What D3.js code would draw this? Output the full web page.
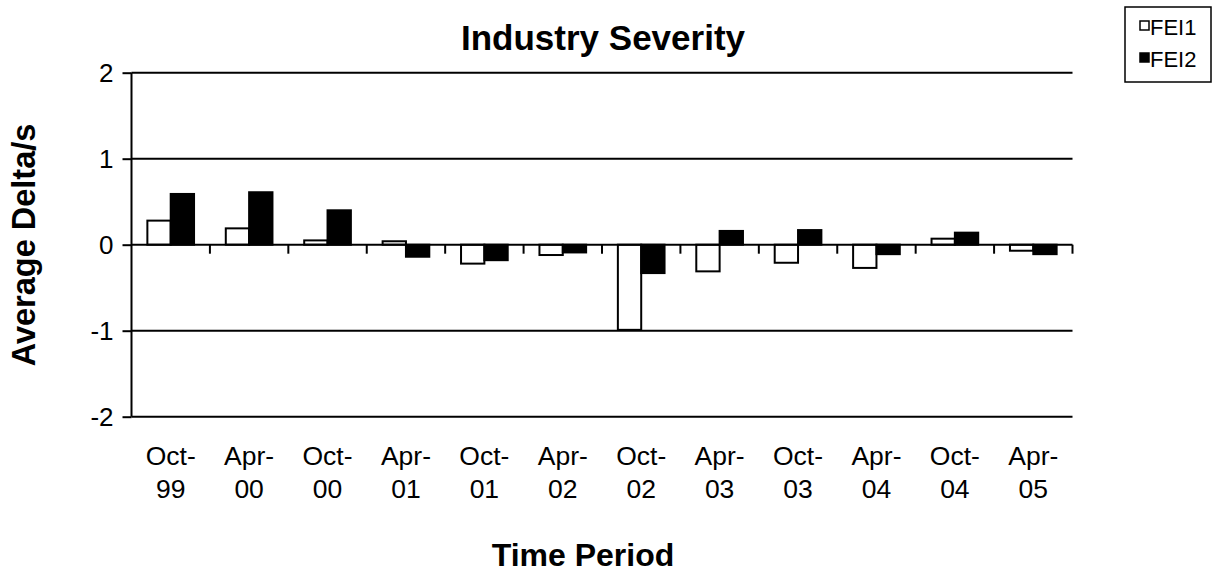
<!DOCTYPE html>
<html>
<head>
<meta charset="utf-8">
<script src="https://cdn.jsdelivr.net/npm/d3@7"></script>
<style>
  body { margin: 0; background: #fff; }
  text { font-family: "Liberation Sans", Arial, sans-serif; fill: #000; }
</style>
</head>
<body>
<div id="chart"></div>
<script>
// data
var categories = ["Oct-99", "Apr-00", "Oct-00", "Apr-01", "Oct-01", "Apr-02",
                  "Oct-02", "Apr-03", "Oct-03", "Apr-04", "Oct-04", "Apr-05"];
var fei1 = [0.28, 0.19, 0.05, 0.04, -0.22, -0.12, -0.99, -0.31, -0.21, -0.27, 0.07, -0.07];
var fei2 = [0.59, 0.61, 0.40, -0.14, -0.18, -0.09, -0.33, 0.16, 0.17, -0.11, 0.14, -0.11];
var seriesNames = ["FEI1", "FEI2"];
var seriesFill = ["#fff", "#000"];
var yTicks = [-2, -1, 0, 1, 2];

var width = 1213, height = 572;
var plot = {left: 131.5, right: 1072.5, top: 72.7, bottom: 416.7};

var svg = d3.select("#chart").append("svg")
    .attr("width", width)
    .attr("height", height);

// scales
var x0 = d3.scaleBand().domain(categories).range([plot.left, plot.right]).padding(0);
var x1 = d3.scaleBand().domain(seriesNames).range([0, x0.bandwidth()])
    .paddingInner(0).paddingOuter(0.68);
var y = d3.scaleLinear().domain([-2, 2]).range([plot.bottom, plot.top]);

// gridlines (non-zero)
svg.append("g").selectAll("line")
  .data(yTicks.filter(function(d) { return d !== 0; }))
  .enter().append("line")
    .attr("x1", plot.left).attr("x2", plot.right)
    .attr("y1", function(d) { return y(d); })
    .attr("y2", function(d) { return y(d); })
    .attr("stroke", "#000").attr("stroke-width", 2);

// bars
var rows = categories.map(function(c, i) {
  return {cat: c, values: [{s: "FEI1", v: fei1[i]}, {s: "FEI2", v: fei2[i]}]};
});

var groups = svg.append("g").selectAll("g")
  .data(rows)
  .enter().append("g")
    .attr("transform", function(d) { return "translate(" + x0(d.cat) + ",0)"; });

groups.selectAll("rect")
  .data(function(d) { return d.values; })
  .enter().append("rect")
    .attr("x", function(d) { return x1(d.s); })
    .attr("width", x1.bandwidth())
    .attr("y", function(d) { return y(Math.max(0, d.v)); })
    .attr("height", function(d) { return Math.abs(y(d.v) - y(0)); })
    .attr("fill", function(d) { return seriesFill[seriesNames.indexOf(d.s)]; })
    .attr("stroke", "#000")
    .attr("stroke-width", 2);

// y axis
var yAxis = svg.append("g")
    .attr("transform", "translate(" + plot.left + ",0)")
    .call(d3.axisLeft(y).tickValues(yTicks).tickSize(9).tickPadding(9)
      .tickFormat(function(d) { return String(d); }));
yAxis.select(".domain").attr("stroke-width", 2).attr("d",
    "M0," + plot.top + "V" + plot.bottom);
yAxis.selectAll(".tick line").attr("stroke-width", 2);
yAxis.selectAll(".tick text")
    .style("font-family", "'Liberation Sans', Arial, sans-serif")
    .style("font-size", "26px");

// x axis at zero, ticks on category boundaries
var bounds = categories.map(function(c) { return x0(c) + x0.bandwidth(); });
svg.append("line")
    .attr("x1", plot.left).attr("x2", plot.right)
    .attr("y1", y(0)).attr("y2", y(0))
    .attr("stroke", "#000").attr("stroke-width", 2);
svg.append("g").selectAll("line")
  .data(bounds)
  .enter().append("line")
    .attr("x1", function(d) { return d; }).attr("x2", function(d) { return d; })
    .attr("y1", y(0)).attr("y2", y(0) + 9)
    .attr("stroke", "#000").attr("stroke-width", 2);

// category labels, two lines each
var labels = svg.append("g").selectAll("text")
  .data(categories)
  .enter().append("text")
    .attr("text-anchor", "middle")
    .style("font-size", "26.5px");
labels.append("tspan")
    .attr("x", function(d) { return x0(d) + x0.bandwidth() / 2; })
    .attr("y", 465)
    .text(function(d) { return d.split("-")[0] + "-"; });
labels.append("tspan")
    .attr("x", function(d) { return x0(d) + x0.bandwidth() / 2; })
    .attr("y", 498)
    .text(function(d) { return d.split("-")[1]; });

// titles
svg.append("text")
    .attr("x", 603).attr("y", 50)
    .attr("text-anchor", "middle")
    .style("font-size", "35px").style("font-weight", "bold")
    .text("Industry Severity");

svg.append("text")
    .attr("x", 583).attr("y", 566)
    .attr("text-anchor", "middle")
    .style("font-size", "32px").style("font-weight", "bold")
    .text("Time Period");

svg.append("text")
    .attr("transform", "translate(35,245) rotate(-90)")
    .attr("text-anchor", "middle")
    .style("font-size", "32.5px").style("font-weight", "bold")
    .text("Average Delta/s");

// legend
var legend = svg.append("g");
legend.append("rect")
    .attr("x", 1125).attr("y", 7).attr("width", 86).attr("height", 75)
    .attr("fill", "#fff").attr("stroke", "#000").attr("stroke-width", 1.5);
var items = legend.selectAll("g.item")
  .data(seriesNames)
  .enter().append("g").attr("class", "item")
    .attr("transform", function(d, i) { return "translate(1139," + (35 + i * 32) + ")"; });
items.append("rect")
    .attr("x", 1).attr("y", -14).attr("width", 9).attr("height", 9)
    .attr("fill", function(d, i) { return seriesFill[i]; })
    .attr("stroke", "#000").attr("stroke-width", 1.5);
items.append("text")
    .attr("x", 11).attr("y", 0)
    .style("font-size", "22px")
    .text(function(d) { return d; });
</script>
</body>
</html>
